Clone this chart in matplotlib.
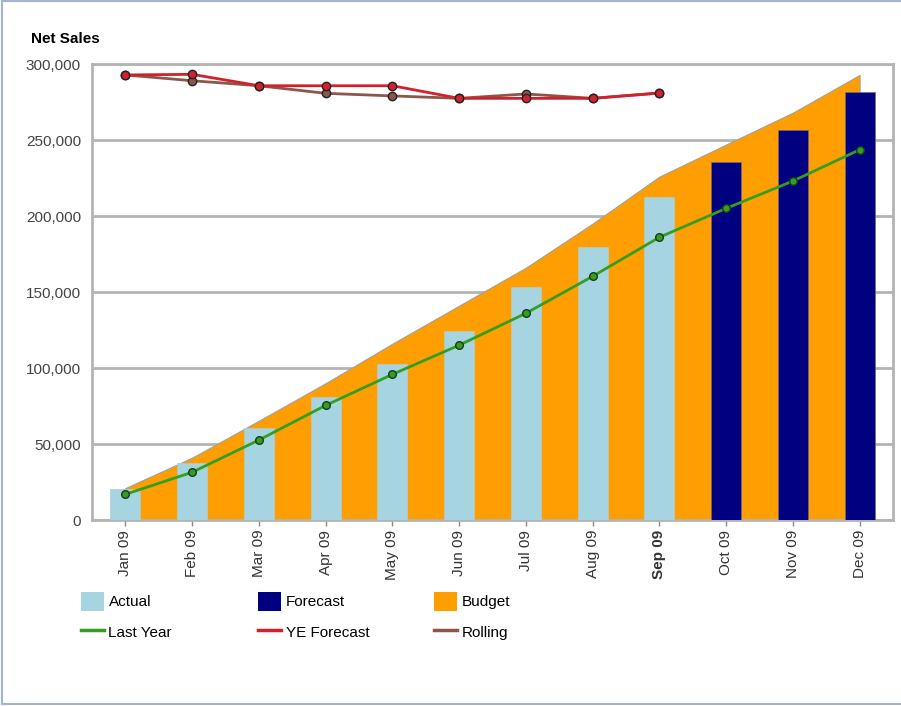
import numpy as np
import matplotlib
matplotlib.use("Agg")
from matplotlib import pyplot as plt
from matplotlib.lines import Line2D
from matplotlib.patches import Patch

plt.rcParams['font.family'] = ['Liberation Sans', 'DejaVu Sans']

months = ['Jan 09', 'Feb 09', 'Mar 09', 'Apr 09', 'May 09', 'Jun 09',
          'Jul 09', 'Aug 09', 'Sep 09', 'Oct 09', 'Nov 09', 'Dec 09']
actual = [20200, 37300, 60300, 81100, 102600, 124300, 153000, 179400, 212500]
forecast = [235300, 256400, 281400]
budget = [21000, 41000, 65300, 90000, 116000, 141000, 166000, 195000, 225900,
          247000, 268000, 292800]
last_year = [16900, 31400, 52600, 75400, 95800, 115000, 136000, 160300, 186000,
             205000, 223000, 243600]
ye_forecast = [292800, 293200, 285700, 285700, 285700, 277400, 277400, 277400, 280900]
rolling = [292800, 289000, 285700, 280700, 279000, 277400, 280300, 277400, 280900]

c_actual = '#a6d4e0'
c_forecast = '#000080'
c_budget = '#ff9e00'
c_ly = '#339e22'
c_ye = '#d2202e'
c_roll = '#8c564b'
grid_c = '#b4b4b4'
text_c = '#333333'

fig = plt.figure(figsize=(9.01, 7.06), dpi=100)
ax = fig.add_axes([92/901, 1 - 520/706, (893-92)/901, (520-64)/706])

x = np.arange(len(months))
n_act = len(actual)

ax.fill_between(x, budget, color=c_budget, edgecolor='#a0a0a0', linewidth=0.8, zorder=2)
ax.bar(x[:n_act], actual, width=0.45, color=c_actual, edgecolor='#b8c8cc', linewidth=0.5, zorder=3)
ax.bar(x[n_act:], forecast, width=0.45, color=c_forecast, edgecolor='#707080', linewidth=0.5, zorder=3)

ax.plot(x, last_year, color=c_ly, lw=2, marker='o', ms=5.5, mfc=c_ly, mec='#1a3a1a', mew=1, zorder=4)
ax.plot(x[:len(rolling)], rolling, color=c_roll, lw=2, marker='o', ms=6, mfc=c_roll, mec='#222222', mew=1, zorder=5)
ax.plot(x[:len(ye_forecast)], ye_forecast, color=c_ye, lw=2, marker='o', ms=6, mfc=c_ye, mec='#222222', mew=1, zorder=6)

ax.set_xlim(-0.5, 11.5)
ax.set_ylim(0, 300000)
ax.set_yticks(np.arange(0, 300001, 50000))
ax.set_yticklabels([f'{v:,}' for v in range(0, 300001, 50000)])
ax.yaxis.grid(True, color=grid_c, linewidth=2, zorder=0)
ax.set_axisbelow(True)
ax.tick_params(axis='y', length=0, pad=8, labelsize=11, labelcolor='#444444')
ax.set_xticks(x)
ax.set_xticklabels(months, rotation=90)
ax.tick_params(axis='x', length=4, width=1, color='#888888', pad=3, labelsize=11, labelcolor=text_c)
ax.get_xticklabels()[8].set_fontweight('bold')
for s in ax.spines.values():
    s.set_color(grid_c)
    s.set_linewidth(2)

fig.text(31/901, 1 - 39/706, 'Net Sales', fontsize=11, fontweight='bold', va='center', ha='left')

cols = [
    (81, [Patch(facecolor=c_actual), Line2D([], [], color=c_ly, lw=2.5)], ['Actual', 'Last Year']),
    (258, [Patch(facecolor=c_forecast), Line2D([], [], color=c_ye, lw=2.5)], ['Forecast', 'YE Forecast']),
    (434, [Patch(facecolor=c_budget), Line2D([], [], color=c_roll, lw=2.5)], ['Budget', 'Rolling']),
]
for xpos, handles, labels in cols:
    fig.legend(handles, labels, loc='upper left', bbox_to_anchor=(xpos/901, 1 - 592/706),
               frameon=False, fontsize=11, handlelength=1.5, handleheight=1.5,
               handletextpad=0.3, labelspacing=0.78, borderpad=0, borderaxespad=0)

bc = '#a4b4d4'
fig.add_artist(Line2D([2/901, 1], [1 - 1/706, 1 - 1/706], color=bc, lw=1.5, transform=fig.transFigure))
fig.add_artist(Line2D([2/901, 2/901], [1 - 1/706, 1 - 704/706], color=bc, lw=1.5, transform=fig.transFigure))
fig.add_artist(Line2D([2/901, 1], [1 - 704/706, 1 - 704/706], color=bc, lw=1.5, transform=fig.transFigure))

fig.savefig('out.png', dpi=100)
